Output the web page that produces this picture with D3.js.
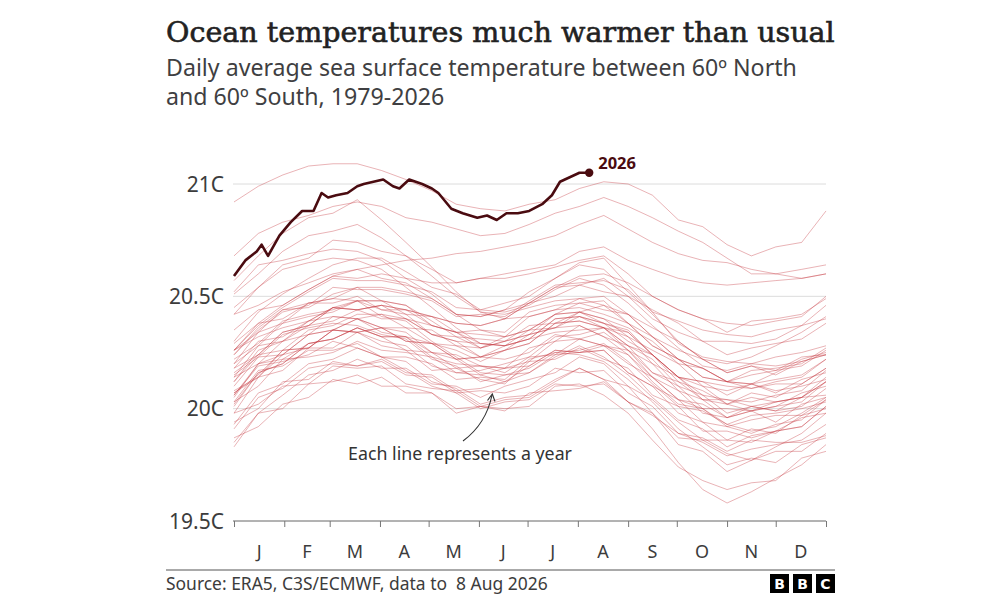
<!DOCTYPE html>
<html><head><meta charset="utf-8">
<script src="https://cdn.jsdelivr.net/npm/d3@7"></script>
<style>body{margin:0;background:#fff}svg{display:block}</style>
</head><body>
<svg id="chart" width="1000" height="600"></svg>
<script>
const titleText = "Ocean temperatures much warmer than usual";
const subtitleLines = ["Daily average sea surface temperature between 60º North", "and 60º South, 1979-2026"];
const sourceText = "Source: ERA5, C3S/ECMWF, data to  8 Aug 2026";
const noteText = "Each line represents a year";
const monthLabels = ["J","F","M","A","M","J","J","A","S","O","N","D"];
const monthStartDays = [0,31,59,90,120,151,181,212,243,273,304,334,365];
const yTickValues = [19.5,20,20.5,21];
const yTickLabels = ["19.5C","20C","20.5C","21C"];
const sampleDays = [0,15,30,46,61,76,91,106,122,137,152,167,182,198,213,228,243,258,274,289,304,319,334,350,365];

const y1979 = [19.91,20.05,20.09,20.18,20.20,20.19,20.21,20.15,20.14,20.07,20.08,20.07,20.10,20.18,20.16,20.17,20.07,20.01,19.89,19.87,19.81,19.86,19.85,19.85,19.88];
const y1980 = [19.98,20.14,20.17,20.27,20.27,20.34,20.28,20.26,20.17,20.18,20.13,20.11,20.21,20.22,20.27,20.22,20.18,20.06,20.01,19.90,19.90,19.87,19.90,19.96,19.98];
const y1981 = [19.98,20.02,20.10,20.11,20.19,20.18,20.19,20.11,20.09,20.08,20.01,20.04,20.05,20.12,20.18,20.13,20.10,19.98,19.87,19.86,19.80,19.77,19.83,19.89,19.98];
const y1982 = [20.03,20.10,20.22,20.23,20.25,20.30,20.26,20.25,20.23,20.16,20.17,20.20,20.23,20.32,20.33,20.36,20.28,20.24,20.14,20.12,20.10,20.09,20.12,20.14,20.22];
const y1983 = [20.22,20.29,20.39,20.42,20.44,20.48,20.41,20.39,20.30,20.23,20.16,20.15,20.18,20.25,20.24,20.21,20.13,20.03,19.91,19.83,19.75,19.78,19.76,19.84,19.87];
const y1984 = [19.87,19.92,20.02,20.05,20.13,20.11,20.14,20.07,20.07,20.00,20.01,20.00,20.01,20.10,20.11,20.06,19.98,19.86,19.74,19.68,19.64,19.67,19.68,19.78,19.81];
const y1985 = [19.83,19.98,20.00,20.11,20.12,20.15,20.10,20.10,20.07,19.98,20.01,19.99,20.07,20.08,20.09,20.12,20.03,19.98,19.84,19.81,19.72,19.77,19.81,19.81,19.89];
const y1986 = [19.94,20.00,20.12,20.13,20.21,20.19,20.22,20.16,20.15,20.08,20.09,20.12,20.16,20.24,20.25,20.28,20.20,20.14,20.04,20.02,19.96,20.01,19.99,20.01,20.09];
const y1987 = [20.10,20.23,20.24,20.33,20.35,20.40,20.36,20.36,20.29,20.28,20.23,20.28,20.31,20.40,20.41,20.38,20.35,20.24,20.14,20.06,20.04,20.01,19.99,20.05,20.06];
const y1988 = [20.06,20.19,20.21,20.24,20.30,20.27,20.23,20.21,20.12,20.09,20.02,20.05,20.06,20.13,20.18,20.13,20.03,19.91,19.76,19.64,19.58,19.63,19.69,19.75,19.84];
const y1989 = [19.85,19.98,20.06,20.15,20.17,20.22,20.18,20.18,20.11,20.10,20.05,20.10,20.13,20.16,20.23,20.20,20.10,20.04,19.94,19.86,19.86,19.85,19.90,19.92,20.01];
const y1990 = [20.05,20.20,20.24,20.33,20.35,20.40,20.34,20.32,20.23,20.20,20.19,20.16,20.23,20.24,20.31,20.28,20.26,20.14,20.08,19.98,19.96,19.99,19.94,20.02,20.05];
const y1991 = [20.07,20.15,20.26,20.27,20.35,20.34,20.36,20.30,20.29,20.22,20.23,20.22,20.25,20.33,20.31,20.28,20.24,20.12,20.02,20.00,19.93,19.97,19.98,20.00,20.03];
const y1992 = [20.03,20.17,20.19,20.26,20.26,20.29,20.23,20.17,20.10,20.07,20.00,20.03,20.04,20.11,20.10,20.11,20.03,19.97,19.89,19.85,19.79,19.82,19.84,19.86,19.93];
const y1993 = [19.93,20.07,20.11,20.20,20.22,20.27,20.23,20.23,20.20,20.13,20.14,20.13,20.22,20.25,20.26,20.29,20.21,20.11,20.01,19.99,19.93,19.90,19.92,19.98,20.05];
const y1994 = [20.07,20.14,20.26,20.27,20.35,20.34,20.36,20.30,20.29,20.26,20.21,20.26,20.29,20.38,20.39,20.36,20.34,20.24,20.14,20.12,20.06,20.11,20.08,20.10,20.13];
const y1995 = [20.15,20.23,20.33,20.36,20.38,20.37,20.33,20.31,20.22,20.19,20.12,20.15,20.16,20.23,20.28,20.23,20.15,20.05,19.95,19.91,19.83,19.88,19.90,19.92,20.01];
const y1996 = [20.01,20.16,20.20,20.29,20.31,20.36,20.32,20.26,20.25,20.18,20.19,20.18,20.21,20.30,20.31,20.34,20.26,20.16,20.12,20.04,20.04,20.03,20.06,20.08,20.17];
const y1997 = [20.18,20.24,20.34,20.37,20.45,20.44,20.46,20.44,20.41,20.38,20.37,20.40,20.47,20.54,20.59,20.60,20.56,20.50,20.44,20.40,20.38,20.37,20.39,20.41,20.50];
const y1998 = [20.52,20.64,20.66,20.69,20.71,20.70,20.66,20.58,20.51,20.42,20.35,20.32,20.35,20.36,20.37,20.32,20.24,20.14,20.04,20.00,19.92,19.95,19.97,19.97,20.04];
const y1999 = [20.08,20.14,20.24,20.27,20.35,20.34,20.30,20.28,20.19,20.16,20.15,20.12,20.19,20.26,20.25,20.26,20.16,20.10,20.04,19.94,19.92,19.89,19.93,19.95,20.04];
const y2000 = [20.06,20.20,20.22,20.29,20.31,20.36,20.32,20.32,20.25,20.24,20.19,20.18,20.27,20.30,20.37,20.32,20.28,20.16,20.10,20.00,20.00,19.99,20.03,20.05,20.12];
const y2001 = [20.14,20.28,20.30,20.37,20.39,20.44,20.40,20.40,20.33,20.30,20.29,20.28,20.31,20.40,20.41,20.38,20.30,20.24,20.12,20.08,20.02,20.07,20.05,20.11,20.18];
const y2002 = [20.20,20.28,20.38,20.41,20.43,20.48,20.44,20.44,20.37,20.34,20.33,20.32,20.41,20.44,20.49,20.50,20.42,20.36,20.30,20.22,20.16,20.19,20.17,20.23,20.24];
const y2003 = [20.26,20.38,20.40,20.47,20.47,20.50,20.44,20.42,20.33,20.30,20.23,20.26,20.33,20.36,20.43,20.40,20.32,20.26,20.20,20.10,20.08,20.11,20.07,20.13,20.16];
const y2004 = [20.18,20.30,20.32,20.39,20.45,20.44,20.46,20.40,20.37,20.34,20.29,20.28,20.35,20.42,20.43,20.46,20.38,20.28,20.22,20.18,20.12,20.11,20.13,20.15,20.22];
const y2005 = [20.24,20.36,20.44,20.45,20.51,20.54,20.48,20.46,20.37,20.34,20.27,20.30,20.37,20.38,20.43,20.38,20.34,20.24,20.14,20.10,20.02,20.05,20.03,20.05,20.12];
const y2006 = [20.12,20.24,20.26,20.35,20.37,20.42,20.42,20.40,20.33,20.32,20.27,20.32,20.35,20.42,20.47,20.44,20.42,20.32,20.26,20.22,20.16,20.19,20.15,20.21,20.24];
const y2007 = [20.26,20.32,20.36,20.39,20.41,20.40,20.36,20.34,20.25,20.22,20.15,20.18,20.19,20.26,20.25,20.26,20.16,20.10,19.98,19.94,19.86,19.91,19.89,19.97,20.00];
const y2008 = [20.02,20.16,20.20,20.29,20.31,20.36,20.32,20.32,20.29,20.22,20.23,20.26,20.29,20.38,20.39,20.36,20.28,20.22,20.10,20.06,19.98,20.01,20.03,20.05,20.14];
const y2009 = [20.16,20.24,20.34,20.37,20.45,20.44,20.46,20.44,20.41,20.38,20.37,20.40,20.47,20.54,20.55,20.58,20.50,20.44,20.38,20.30,20.30,20.29,20.31,20.37,20.40];
const y2010 = [20.42,20.54,20.62,20.65,20.67,20.66,20.62,20.54,20.45,20.36,20.29,20.28,20.31,20.34,20.35,20.36,20.26,20.20,20.08,20.04,19.96,19.99,20.01,20.03,20.12];
const y2011 = [20.14,20.20,20.30,20.33,20.41,20.40,20.42,20.36,20.35,20.28,20.27,20.30,20.33,20.36,20.41,20.36,20.32,20.20,20.14,20.04,20.02,19.99,20.01,20.07,20.10];
const y2012 = [20.12,20.26,20.30,20.39,20.45,20.48,20.48,20.42,20.41,20.34,20.35,20.34,20.43,20.46,20.47,20.48,20.38,20.32,20.22,20.14,20.12,20.09,20.11,20.11,20.18];
const y2013 = [20.20,20.34,20.38,20.47,20.49,20.48,20.48,20.46,20.39,20.32,20.31,20.30,20.33,20.42,20.43,20.40,20.36,20.30,20.20,20.18,20.12,20.15,20.17,20.19,20.26];
const y2014 = [20.26,20.34,20.44,20.47,20.49,20.54,20.54,20.52,20.49,20.42,20.41,20.44,20.47,20.50,20.55,20.52,20.50,20.40,20.34,20.30,20.24,20.27,20.29,20.31,20.38];
const y2015 = [20.35,20.44,20.46,20.53,20.59,20.58,20.60,20.58,20.56,20.56,20.58,20.60,20.62,20.64,20.70,20.72,20.66,20.62,20.58,20.56,20.55,20.56,20.57,20.58,20.60];
const y2016 = [20.57,20.68,20.78,20.85,20.87,20.93,20.84,20.74,20.63,20.52,20.43,20.40,20.41,20.44,20.45,20.42,20.38,20.28,20.22,20.18,20.12,20.17,20.18,20.20,20.27];
const y2017 = [20.30,20.43,20.51,20.58,20.64,20.67,20.67,20.61,20.54,20.51,20.44,20.47,20.50,20.58,20.65,20.67,20.55,20.43,20.29,20.23,20.21,20.20,20.19,20.21,20.24];
const y2018 = [20.24,20.35,20.43,20.46,20.54,20.53,20.53,20.51,20.48,20.41,20.42,20.41,20.48,20.55,20.56,20.57,20.53,20.43,20.39,20.35,20.33,20.32,20.35,20.37,20.46];
const y2019 = [20.45,20.54,20.64,20.67,20.75,20.74,20.70,20.68,20.62,20.56,20.58,20.58,20.60,20.63,20.66,20.68,20.60,20.50,20.44,20.40,20.34,20.39,20.40,20.42,20.49];
const y2020 = [20.51,20.60,20.70,20.77,20.79,20.82,20.76,20.68,20.59,20.50,20.43,20.42,20.45,20.48,20.49,20.46,20.42,20.32,20.22,20.14,20.12,20.11,20.16,20.22,20.25];
const y2021 = [20.26,20.37,20.45,20.52,20.58,20.57,20.57,20.55,20.52,20.45,20.44,20.43,20.46,20.53,20.58,20.55,20.47,20.37,20.27,20.19,20.17,20.20,20.23,20.25,20.28];
const y2022 = [20.29,20.38,20.46,20.53,20.59,20.62,20.58,20.56,20.49,20.42,20.41,20.44,20.52,20.58,20.64,20.62,20.52,20.42,20.30,20.22,20.20,20.23,20.28,20.34,20.41];
const y2023 = [20.42,20.46,20.52,20.56,20.60,20.62,20.64,20.66,20.67,20.69,20.70,20.72,20.74,20.77,20.82,20.86,20.80,20.74,20.69,20.66,20.65,20.62,20.60,20.62,20.64];
const y2024 = [20.92,20.99,21.04,21.08,21.09,21.09,21.06,21.02,20.97,20.91,20.89,20.88,20.91,20.93,20.98,21.01,21.00,20.95,20.84,20.81,20.73,20.68,20.72,20.74,20.88];
const y2025 = [20.68,20.78,20.83,20.86,20.90,20.92,20.90,20.85,20.83,20.80,20.77,20.78,20.82,20.87,20.90,20.94,20.90,20.85,20.79,20.74,20.67,20.60,20.60,20.58,20.60];

const days2026 = [0,7,14,17,21,28,35,42,49,54,58,63,70,76,80,86,92,98,102,108,116,122,126,134,141,150,156,162,168,175,182,190,196,201,207,213,219];
const values2026 = [20.59,20.66,20.70,20.73,20.68,20.77,20.83,20.88,20.88,20.96,20.94,20.95,20.96,20.99,21.00,21.01,21.02,20.99,20.98,21.02,21.00,20.98,20.96,20.89,20.87,20.85,20.86,20.84,20.87,20.87,20.88,20.91,20.95,21.01,21.03,21.05,21.05];

const pastYears = [y1979,y1980,y1981,y1982,y1983,y1984,y1985,y1986,y1987,y1988,y1989,y1990,y1991,y1992,y1993,y1994,y1995,y1996,y1997,y1998,y1999,y2000,y2001,y2002,y2003,y2004,y2005,y2006,y2007,y2008,y2009,y2010,y2011,y2012,y2013,y2014,y2015,y2016,y2017,y2018,y2019,y2020,y2021,y2022,y2023,y2024,y2025];

const svg = d3.select("#chart");
const sans = "'Noto Sans', 'Open Sans', sans-serif";
const textCol = "#3c3c3c";

const x = d3.scaleLinear().domain([0, 365]).range([234, 826]);
const y = d3.scaleLinear().domain([19.5, 21]).range([521, 184]);

function fitText(sel, width) {
  const w = sel.node().getComputedTextLength();
  const fs = parseFloat(sel.attr("font-size"));
  sel.attr("font-size", (fs * width / w).toFixed(2));
}

// Title
const title = svg.append("text").attr("x", 166).attr("y", 42)
  .attr("font-family", "'DejaVu Serif', serif").attr("font-size", 28)
  .attr("fill", "#222").attr("stroke", "#222").attr("stroke-width", 0.6).text(titleText);
fitText(title, 669);

// Subtitle
const sub1 = svg.append("text").attr("x", 166).attr("y", 76)
  .attr("font-family", sans).attr("font-size", 20).attr("fill", "#3f3f42").text(subtitleLines[0]);
fitText(sub1, 631);
svg.append("text").attr("x", 166).attr("y", 105)
  .attr("font-family", sans).attr("font-size", sub1.attr("font-size")).attr("fill", "#3f3f42").text(subtitleLines[1]);

// Gridlines
svg.append("g").selectAll("line").data(yTickValues.slice(1)).join("line")
  .attr("x1", 233).attr("x2", 826)
  .attr("y1", d => y(d)).attr("y2", d => y(d))
  .attr("stroke", "#dcdcdc").attr("stroke-width", 1);

// Y labels
svg.append("g").selectAll("text").data(yTickValues).join("text")
  .attr("x", 224).attr("y", d => y(d)).attr("dy", "0.36em")
  .attr("text-anchor", "end").attr("font-family", sans).attr("font-size", 21)
  .attr("fill", textCol).text((d, i) => yTickLabels[i]);

// X axis
const xAxis = d3.axisBottom(x).tickValues(monthStartDays).tickSize(6).tickFormat("");
const gx = svg.append("g").attr("transform", "translate(0,521)").call(xAxis);
gx.select(".domain").attr("stroke", "#666").attr("d", "M233,0H826");
gx.selectAll(".tick line").attr("stroke", "#777");
svg.append("g").selectAll("text").data(monthLabels).join("text")
  .attr("x", (d, i) => x((monthStartDays[i] + monthStartDays[i + 1]) / 2))
  .attr("y", 558).attr("text-anchor", "middle")
  .attr("font-family", sans).attr("font-size", 18).attr("fill", textCol).text(d => d);

// Year lines
const line = d3.line().x((d, i) => x(sampleDays[i])).y(d => y(d)).curve(d3.curveLinear);
svg.append("g").selectAll("path").data(pastYears).join("path")
  .attr("d", line).attr("fill", "none")
  .attr("stroke", "#c4343c").attr("stroke-opacity", 0.42).attr("stroke-width", 0.9);

// 2026
const line26 = d3.line().x((d, i) => x(days2026[i])).y(d => y(d));
svg.append("path").datum(values2026).attr("d", line26).attr("fill", "none")
  .attr("stroke", "#4a0b10").attr("stroke-width", 2.6).attr("stroke-linejoin", "round");
const lastI = values2026.length - 1;
svg.append("circle").attr("cx", x(days2026[lastI])).attr("cy", y(values2026[lastI]))
  .attr("r", 4.2).attr("fill", "#4a0b10");
svg.append("text").attr("x", x(days2026[lastI]) + 9).attr("y", y(values2026[lastI]) - 4)
  .attr("font-family", sans).attr("font-size", 16.5).attr("font-weight", 700)
  .attr("fill", "#4a0b10").text("2026");

// Annotation
const note = svg.append("text").attr("x", 460).attr("y", 460).attr("text-anchor", "middle")
  .attr("font-family", sans).attr("font-size", 16).attr("fill", "#333").text(noteText);
fitText(note, 224);
svg.append("path").attr("d", "M463,441 Q486,424 492,395").attr("fill", "none")
  .attr("stroke", "#333").attr("stroke-width", 1.1);
svg.append("path").attr("d", "M487.5,400.5 L492.3,394 L495,401.5").attr("fill", "none")
  .attr("stroke", "#333").attr("stroke-width", 1.1);

// Footer
svg.append("line").attr("x1", 166).attr("x2", 835).attr("y1", 570).attr("y2", 570)
  .attr("stroke", "#555").attr("stroke-width", 1);
const src = svg.append("text").attr("x", 166).attr("y", 590).attr("font-family", sans)
  .attr("font-size", 16).attr("fill", textCol).style("white-space", "pre").text(sourceText);
fitText(src, 382);
const logo = svg.append("g");
["B","B","C"].forEach((c, i) => {
  logo.append("rect").attr("x", 770 + i * 23).attr("y", 574).attr("width", 19).attr("height", 19).attr("fill", "#000");
  logo.append("text").attr("x", 779.5 + i * 23).attr("y", 588.5).attr("text-anchor", "middle")
    .attr("font-family", "'DejaVu Sans', sans-serif").attr("font-weight", 700).attr("font-size", 14)
    .attr("fill", "#fff").text(c);
});
</script>
</body></html>
